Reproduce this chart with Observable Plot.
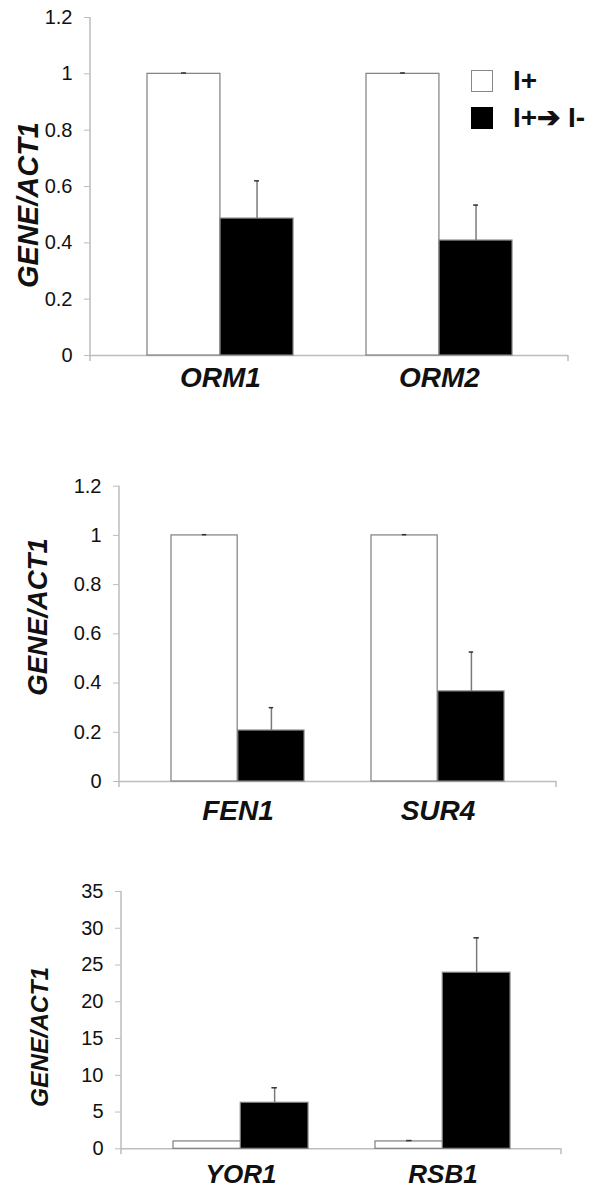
<!DOCTYPE html>
<html><head><meta charset="utf-8">
<script src="https://cdn.jsdelivr.net/npm/d3@7"></script>
<script src="https://cdn.jsdelivr.net/npm/@observablehq/plot@0.6"></script>
<style>
body{margin:0;background:#fff;font-family:"Liberation Sans",Arial,sans-serif;}
#wrap{position:relative;width:603px;height:1190px;overflow:hidden;background:#fff;}
.panel{position:absolute;left:0;}
.ytitle{position:absolute;font-weight:bold;font-style:italic;color:#111;white-space:nowrap;line-height:1;transform:translate(-50%,-50%) rotate(-90deg);}
.sw{position:absolute;width:22px;height:22px;box-sizing:border-box;}
.lt{position:absolute;font-weight:bold;font-size:28px;line-height:1;color:#111;white-space:nowrap;}
</style></head>
<body><div id="wrap"></div>
<script>
// ---- data ----
const seriesNames = ["I+", "I+\u2794 I-"];
const yTitle = "GENE/ACT1";

const genes1 = ["ORM1", "ORM2"];
const plus1 = [1, 1];
const plusErr1 = [0.003, 0.003];
const minus1 = [0.486, 0.408];
const minusErr1 = [0.134, 0.126];
const yTicks1 = [0, 0.2, 0.4, 0.6, 0.8, 1, 1.2];

const genes2 = ["FEN1", "SUR4"];
const plus2 = [1, 1];
const plusErr2 = [0.003, 0.003];
const minus2 = [0.207, 0.366];
const minusErr2 = [0.093, 0.160];
const yTicks2 = [0, 0.2, 0.4, 0.6, 0.8, 1, 1.2];

const genes3 = ["YOR1", "RSB1"];
const plus3 = [1.0, 1.0];
const plusErr3 = [0.0, 0.12];
const minus3 = [6.26, 23.95];
const minusErr3 = [2.04, 4.75];
const yTicks3 = [0, 5, 10, 15, 20, 25, 30, 35];

// ---- layout ----
const W = 603, PI = 0.334, PO = 0.256;
const wrap = document.getElementById("wrap");

function panel(cfg) {
  const {genes, plus, plusErr, minus, minusErr, ticks, top, H, mt, mb, ml, mr, xpad, xsize, title} = cfg;
  const white = genes.map((g, i) => ({gene: g, value: plus[i], err: plusErr[i]}));
  const black = genes.map((g, i) => ({gene: g, value: minus[i], err: minusErr[i]}));
  const whiteErr = white.filter(d => d.err > 0);
  const bw = (W - ml - mr) * (1 - PI) / (2 - PI + 2 * PO);
  const q = bw / 4, cap = 2.5;
  const chart = Plot.plot({
    width: W, height: H, marginTop: mt, marginBottom: mb, marginLeft: ml, marginRight: mr,
    style: {fontFamily: '"Liberation Sans", Arial, sans-serif', color: "#111", background: "transparent", overflow: "visible"},
    x: {domain: genes, paddingInner: PI, paddingOuter: PO},
    y: {domain: [0, ticks[ticks.length - 1]]},
    marks: [
      Plot.ruleY([0], {stroke: "#bdbdbd", strokeWidth: 1.5}),
      Plot.barY(white, {x: "gene", y: "value", fill: "white", stroke: "#7f7f7f", strokeWidth: 1.2, insetRight: bw / 2}),
      Plot.barY(black, {x: "gene", y: "value", fill: "black", stroke: "#7f7f7f", strokeWidth: 1.2, insetLeft: bw / 2}),
      Plot.ruleX(whiteErr, {x: "gene", y1: "value", y2: d => d.value + d.err, dx: -q, stroke: "#7a7a7a", strokeWidth: 1.5}),
      Plot.ruleX(black, {x: "gene", y1: "value", y2: d => d.value + d.err, dx: q, stroke: "#7a7a7a", strokeWidth: 1.5}),
      Plot.tickY(whiteErr, {x: "gene", y: d => d.value + d.err, insetLeft: q - cap, insetRight: 3 * q - cap, stroke: "#333", strokeWidth: 1.5}),
      Plot.tickY(black, {x: "gene", y: d => d.value + d.err, insetLeft: 3 * q - cap, insetRight: q - cap, stroke: "#333", strokeWidth: 1.5}),
      Plot.axisY({ticks, tickFormat: d => String(d), tickSize: 6, tickPadding: 12, fontSize: 20, stroke: "#bdbdbd", fill: "#111", label: null}),
      Plot.axisX({tickSize: 0, tickPadding: xpad, fontSize: xsize, fontWeight: "bold", fontStyle: "italic", fill: "#111", label: null})
    ]
  });
  // axis line and end tick, from the scales' ranges
  const xr = chart.scale("x").range, yr = chart.scale("y").range;
  const s = d3.select(chart);
  s.append("line").attr("x1", xr[0]).attr("x2", xr[0]).attr("y1", yr[1]).attr("y2", yr[0] + 6)
    .attr("stroke", "#bdbdbd").attr("stroke-width", 1.5);
  s.append("line").attr("x1", xr[1]).attr("x2", xr[1]).attr("y1", yr[0]).attr("y2", yr[0] + 6)
    .attr("stroke", "#bdbdbd").attr("stroke-width", 1.5);
  const div = document.createElement("div");
  div.className = "panel";
  div.style.top = top + "px";
  div.appendChild(chart);
  wrap.appendChild(div);
  const t = document.createElement("div");
  t.className = "ytitle";
  t.textContent = yTitle;
  t.style.left = title.x + "px";
  t.style.top = title.y + "px";
  t.style.fontSize = title.size + "px";
  wrap.appendChild(t);
}

panel({genes: genes1, plus: plus1, plusErr: plusErr1, minus: minus1, minusErr: minusErr1, ticks: yTicks1,
  top: 0, H: 400, mt: 17, mb: 45, ml: 90, mr: 35, xpad: 12, xsize: 28, title: {x: 27.5, y: 205, size: 29}});
panel({genes: genes2, plus: plus2, plusErr: plusErr2, minus: minus2, minusErr: minusErr2, ticks: yTicks2,
  top: 440, H: 400, mt: 45.7, mb: 59, ml: 119, mr: 47, xpad: 19, xsize: 28, title: {x: 38, y: 616.5, size: 27.5}});
panel({genes: genes3, plus: plus3, plusErr: plusErr3, minus: minus3, minusErr: minusErr3, ticks: yTicks3,
  top: 860, H: 326, mt: 31, mb: 37.7, ml: 121, mr: 42, xpad: 16, xsize: 26, title: {x: 40, y: 1037, size: 24.5}});

// legend
const fills = ["white", "black"];
seriesNames.forEach((name, i) => {
  const sw = document.createElement("div");
  sw.className = "sw";
  sw.style.left = "471px";
  sw.style.top = (70 + i * 37) + "px";
  sw.style.background = fills[i];
  sw.style.border = i === 0 ? "1.5px solid #888" : "none";
  wrap.appendChild(sw);
  const lt = document.createElement("div");
  lt.className = "lt";
  lt.style.left = "513px";
  lt.style.top = (67 + i * 37) + "px";
  lt.textContent = name;
  wrap.appendChild(lt);
});
</script>
</body></html>
